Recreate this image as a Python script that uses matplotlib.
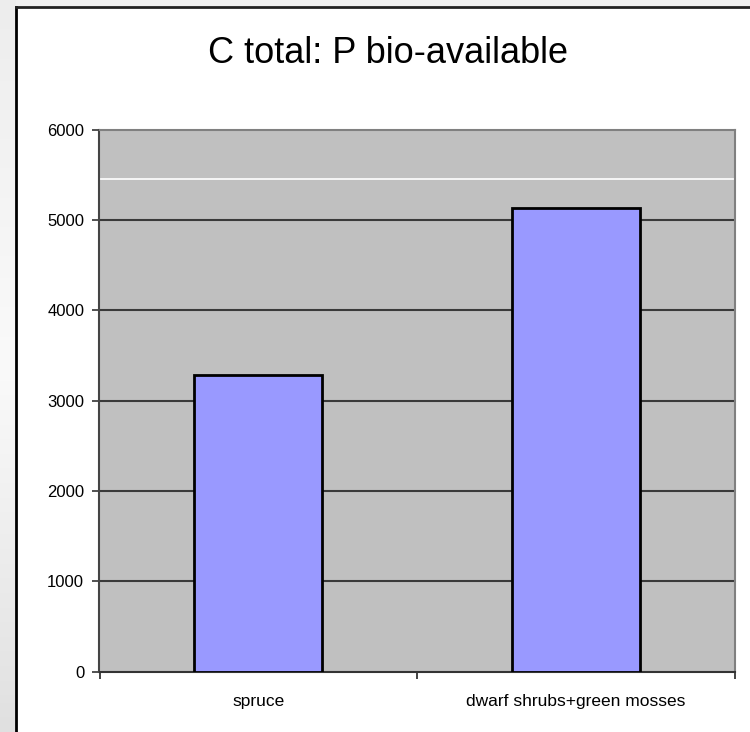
import matplotlib
matplotlib.use("Agg")
import matplotlib.pyplot as plt
import numpy as np

categories = ["spruce", "dwarf shrubs+green mosses"]
values = [3285, 5135]
yticks = [0, 1000, 2000, 3000, 4000, 5000, 6000]
title = "C total: P bio-available"

plt.rcParams['font.family'] = ['Liberation Sans', 'DejaVu Sans']

W, H = 750, 732
fig = plt.figure(figsize=(W / 100, H / 100), dpi=100)
fig.patch.set_facecolor("#f0f0f0")

# left gradient strip
gax = fig.add_axes([0, 0, 16 / W, 1])
grad = np.concatenate([np.linspace(0.93, 0.98, 50), np.linspace(0.98, 0.88, 50)])
gax.imshow(np.stack([grad] * 3, axis=-1)[:, None, :].repeat(2, axis=1), aspect='auto',
           extent=[0, 1, 0, 1], origin='upper')
gax.axis('off')

# white chart area with border on left and top
bg = fig.add_axes([16 / W, -0.01, 1 - 16 / W + 0.01, 1.01 - 6.5 / H])
bg.set_facecolor("white")
bg.set_xticks([])
bg.set_yticks([])
for s in ['right', 'bottom']:
    bg.spines[s].set_visible(False)
bg.spines['left'].set_color("black")
bg.spines['left'].set_linewidth(2)
bg.spines['top'].set_color("#222222")
bg.spines['top'].set_linewidth(2)

left, right = 99.5 / W, 735 / W
bottom, top = (H - 671.7) / H, (H - 129.5) / H
ax = fig.add_axes([left, bottom, right - left, top - bottom])
ax.set_facecolor("#c0c0c0")

x = np.arange(len(categories))
ax.bar(x, values, width=0.403, color="#9999ff", edgecolor="black", linewidth=2, zorder=3)

ax.set_xlim(-0.5, 1.5)
ax.set_ylim(0, 6000)
ax.set_yticks(yticks)
ax.set_yticklabels([str(v) for v in yticks], fontsize=12)
for v in yticks[1:-1]:
    ax.axhline(v, color="#3a3a3a", lw=1.5, zorder=1)
ax.axhline(5450, color="white", lw=1.2, zorder=1)

ax.set_xticks([-0.5, 0.5, 1.5])
ax.set_xticklabels([])
ax.set_xticks(x, minor=True)
ax.set_xticklabels(categories, minor=True, fontsize=12.5)
ax.tick_params(axis='x', which='minor', length=0, pad=16)
ax.tick_params(axis='x', which='major', length=5, width=1.2, color="#222222", direction='out')
ax.tick_params(axis='y', length=5, width=1.2, color="#333333", direction='out', pad=6)

ax.spines['left'].set_color("#444444")
ax.spines['left'].set_linewidth(1.5)
ax.spines['bottom'].set_color("#333333")
ax.spines['bottom'].set_linewidth(1.5)
ax.spines['top'].set_color("#808080")
ax.spines['top'].set_linewidth(1.5)
ax.spines['right'].set_color("#808080")
ax.spines['right'].set_linewidth(1.5)

fig.text(388.5 / W, (H - 62.7) / H, title, fontsize=26, ha='center', va='baseline')

fig.savefig("out.png", dpi=100, facecolor=fig.get_facecolor())
